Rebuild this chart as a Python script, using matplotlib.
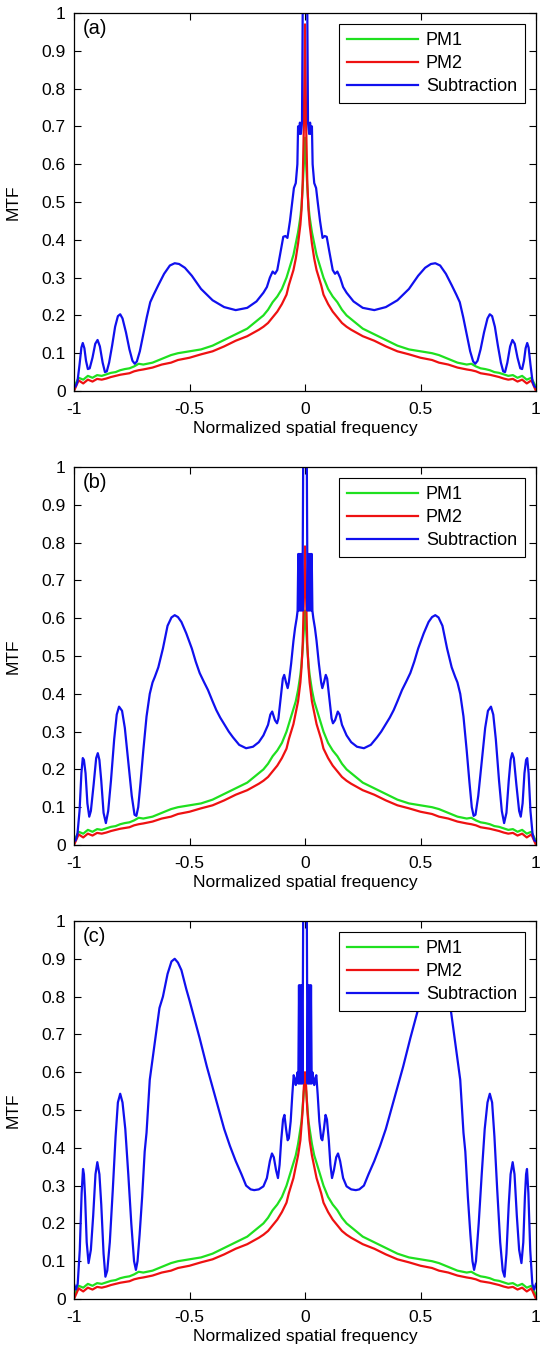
import numpy as np
import matplotlib
matplotlib.use("Agg")
import matplotlib.pyplot as plt

plt.rcParams['font.family'] = ['Liberation Sans', 'DejaVu Sans']

# ---------------- data (positive half, curves are symmetric about 0) ----------------
# PM1 / PM2 common grid
x_pm = [0.0, 0.005, 0.01, 0.015, 0.02, 0.03, 0.04, 0.05, 0.06, 0.07, 0.08, 0.10, 0.12,
        0.14, 0.16, 0.18, 0.20, 0.25, 0.30, 0.35, 0.40, 0.45, 0.50, 0.55, 0.58, 0.62,
        0.66, 0.70, 0.72, 0.74, 0.76, 0.78, 0.80, 0.82, 0.84, 0.86, 0.88, 0.90, 0.92,
        0.94, 0.96, 0.98, 1.0]
pm1_tail = [0.30, 0.27, 0.25, 0.235, 0.215, 0.20, 0.19, 0.165, 0.15, 0.135, 0.12, 0.11,
            0.105, 0.10, 0.095, 0.085, 0.075, 0.07, 0.072, 0.065, 0.06, 0.058, 0.055, 0.05,
            0.048, 0.044, 0.04, 0.042, 0.035, 0.04, 0.03, 0.035, 0.01]
pm2_tail = [0.255, 0.23, 0.21, 0.195, 0.18, 0.17, 0.162, 0.145, 0.133, 0.118, 0.105, 0.097,
            0.088, 0.082, 0.075, 0.07, 0.062, 0.057, 0.055, 0.052, 0.047, 0.045, 0.043, 0.04,
            0.037, 0.033, 0.03, 0.032, 0.025, 0.03, 0.02, 0.028, 0.0]
pm1_core_a = [0.67, 0.60, 0.54, 0.49, 0.46, 0.42, 0.39, 0.36, 0.34, 0.32]
pm2_core_a = [0.97, 0.70, 0.55, 0.48, 0.44, 0.39, 0.35, 0.32, 0.30, 0.28]
pm1_core_b = [0.62, 0.57, 0.52, 0.48, 0.45, 0.41, 0.38, 0.36, 0.34, 0.32]
pm2_core_b = [0.79, 0.65, 0.53, 0.47, 0.43, 0.38, 0.35, 0.32, 0.30, 0.28]
pm1_core_c = [0.57, 0.55, 0.51, 0.47, 0.45, 0.41, 0.38, 0.36, 0.34, 0.32]
pm2_core_c = [0.60, 0.56, 0.50, 0.46, 0.42, 0.38, 0.35, 0.32, 0.30, 0.28]

# Subtraction curves
x_sub_a = [0.0, 0.01, 0.013, 0.018, 0.022, 0.026, 0.03, 0.033, 0.04, 0.048, 0.055, 0.065,
           0.076, 0.085, 0.094, 0.105, 0.12, 0.13, 0.14, 0.152, 0.165, 0.18, 0.21, 0.25,
           0.30, 0.35, 0.40, 0.45, 0.49, 0.52, 0.545, 0.564, 0.585, 0.61, 0.635, 0.655,
           0.67, 0.685, 0.70, 0.715, 0.728, 0.737, 0.747, 0.76, 0.775, 0.79, 0.80, 0.81,
           0.822, 0.835, 0.848, 0.858, 0.866, 0.876, 0.888, 0.898, 0.908, 0.92, 0.932,
           0.94, 0.948, 0.955, 0.962, 0.968, 0.976, 0.985, 0.993, 1.0]
sub_a = [1.0, 1.0, 0.71, 0.68, 0.71, 0.68, 0.70, 0.60, 0.55, 0.537, 0.50, 0.45,
         0.405, 0.41, 0.408, 0.37, 0.32, 0.31, 0.316, 0.30, 0.275, 0.26, 0.237, 0.22,
         0.214, 0.222, 0.24, 0.27, 0.305, 0.326, 0.336, 0.338, 0.332, 0.31, 0.28, 0.255,
         0.235, 0.195, 0.15, 0.105, 0.078, 0.072, 0.08, 0.11, 0.155, 0.192, 0.203, 0.198,
         0.17, 0.12, 0.075, 0.052, 0.05, 0.075, 0.118, 0.135, 0.125, 0.088, 0.06,
         0.058, 0.08, 0.113, 0.127, 0.115, 0.07, 0.025, 0.012, 0.01]

x_sub_b = [0.0, 0.008, 0.011, 0.014, 0.018, 0.022, 0.026, 0.029, 0.032, 0.036, 0.043, 0.05,
           0.06, 0.07, 0.075, 0.082, 0.09, 0.096, 0.105, 0.115, 0.121, 0.13, 0.142, 0.15,
           0.16, 0.18, 0.20, 0.225, 0.255, 0.285, 0.312, 0.33, 0.35, 0.367, 0.384, 0.40,
           0.42, 0.438, 0.456, 0.473, 0.49, 0.514, 0.535, 0.55, 0.564, 0.578, 0.595, 0.615,
           0.635, 0.65, 0.66, 0.672, 0.686, 0.70, 0.712, 0.722, 0.73, 0.738, 0.75, 0.765,
           0.78, 0.792, 0.805, 0.815, 0.826, 0.84, 0.852, 0.862, 0.872, 0.882, 0.89, 0.897,
           0.904, 0.915, 0.927, 0.934, 0.942, 0.95, 0.957, 0.962, 0.968, 0.976, 0.985,
           0.993, 1.0]
sub_b = [1.0, 1.0, 0.62, 0.77, 0.62, 0.77, 0.62, 0.77, 0.62, 0.60, 0.574, 0.54,
         0.48, 0.43, 0.415, 0.43, 0.45, 0.44, 0.39, 0.335, 0.322, 0.33, 0.353, 0.345,
         0.318, 0.29, 0.272, 0.26, 0.256, 0.265, 0.285, 0.30, 0.32, 0.337, 0.357, 0.38,
         0.41, 0.432, 0.455, 0.485, 0.52, 0.56, 0.59, 0.603, 0.608, 0.602, 0.58, 0.52,
         0.47, 0.445, 0.43, 0.40, 0.34, 0.25, 0.165, 0.10, 0.077, 0.08, 0.13, 0.22,
         0.31, 0.355, 0.366, 0.345, 0.28, 0.17, 0.09, 0.058, 0.085, 0.17, 0.225, 0.243,
         0.23, 0.16, 0.09, 0.075, 0.11, 0.19, 0.225, 0.23, 0.19, 0.09, 0.03,
         0.012, 0.01]

x_sub_c = [0.0, 0.008, 0.011, 0.014, 0.017, 0.02, 0.023, 0.026, 0.029, 0.032, 0.036, 0.04,
           0.045, 0.049, 0.055, 0.062, 0.07, 0.075, 0.082, 0.089, 0.095, 0.103, 0.11, 0.117,
           0.125, 0.135, 0.143, 0.152, 0.165, 0.18, 0.20, 0.22, 0.235, 0.255, 0.275, 0.30,
           0.325, 0.35, 0.375, 0.40, 0.425, 0.456, 0.48, 0.50, 0.514, 0.535, 0.55, 0.564,
           0.578, 0.595, 0.615, 0.63, 0.65, 0.672, 0.686, 0.694, 0.705, 0.716, 0.725,
           0.732, 0.74, 0.752, 0.765, 0.778, 0.79, 0.80, 0.81, 0.82, 0.832, 0.845, 0.856,
           0.864, 0.872, 0.882, 0.89, 0.899, 0.907, 0.917, 0.927, 0.937, 0.945, 0.952,
           0.957, 0.961, 0.967, 0.975, 0.984, 0.992, 1.0]
sub_c = [1.0, 1.0, 0.57, 0.83, 0.57, 0.83, 0.57, 0.83, 0.57, 0.60, 0.58, 0.566,
         0.585, 0.592, 0.54, 0.47, 0.425, 0.42, 0.45, 0.487, 0.475, 0.42, 0.355, 0.32,
         0.34, 0.375, 0.385, 0.365, 0.32, 0.298, 0.29, 0.288, 0.29, 0.30, 0.33, 0.365,
         0.405, 0.45, 0.505, 0.56, 0.615, 0.69, 0.745, 0.79, 0.82, 0.87, 0.89, 0.90,
         0.893, 0.86, 0.80, 0.77, 0.68, 0.58, 0.44, 0.39, 0.27, 0.17, 0.10,
         0.077, 0.10, 0.2, 0.33, 0.45, 0.52, 0.543, 0.52, 0.43, 0.29, 0.15, 0.075,
         0.059, 0.12, 0.25, 0.33, 0.362, 0.33, 0.22, 0.13, 0.095, 0.15, 0.27,
         0.33, 0.344, 0.28, 0.13, 0.04, 0.025, 0.04]

panels = ['(a)', '(b)', '(c)']
x_ticks = [-1, -0.5, 0, 0.5, 1]
x_tick_labels = ['-1', '-0.5', '0', '0.5', '1']
y_ticks = [0, 0.1, 0.2, 0.3, 0.4, 0.5, 0.6, 0.7, 0.8, 0.9, 1.0]
y_tick_labels = ['0', '0.1', '0.2', '0.3', '0.4', '0.5', '0.6', '0.7', '0.8', '0.9', '1']
legend_labels = ['PM1', 'PM2', 'Subtraction']


def mirror(xh, yh):
    xh = np.asarray(xh, float)
    yh = np.asarray(yh, float)
    x = np.concatenate([-xh[::-1], xh[1:]])
    y = np.concatenate([yh[::-1], yh[1:]])
    return x, y


series = [
    (pm1_core_a + pm1_tail, pm2_core_a + pm2_tail, x_sub_a, sub_a),
    (pm1_core_b + pm1_tail, pm2_core_b + pm2_tail, x_sub_b, sub_b),
    (pm1_core_c + pm1_tail, pm2_core_c + pm2_tail, x_sub_c, sub_c),
]

W, H = 543, 1350
fig = plt.figure(figsize=(W / 100, H / 100), dpi=100)
bottoms = [391, 845, 1299]
ax_h = 378
for i, (p1, p2, xs, sb) in enumerate(series):
    ax = fig.add_axes([74 / W, (H - bottoms[i]) / H, 462 / W, ax_h / H])
    xg, yg = mirror(x_pm, p1)
    xr, yr = mirror(x_pm, p2)
    xb, yb = mirror(xs, sb)
    kw = dict(lw=1.6, solid_joinstyle='round')
    ax.plot(xg, yg, color='#1fe01f', label=legend_labels[0], **kw)
    ax.plot(xr, yr, color='#ee1111', label=legend_labels[1], **kw)
    ax.plot(xb, yb, color='#1010ee', label=legend_labels[2], **kw)
    ax.set_xlim(-1, 1)
    ax.set_ylim(0, 1)
    ax.set_xticks(x_ticks)
    ax.set_xticklabels(x_tick_labels)
    ax.set_yticks(y_ticks)
    ax.set_yticklabels(y_tick_labels)
    ax.tick_params(direction='in', top=True, right=True, length=5, width=0.8,
                   labelsize=12.5, pad=6)
    ax.tick_params(axis='x', pad=8)
    for s in ax.spines.values():
        s.set_linewidth(0.9)
    ax.set_xlabel('Normalized spatial frequency', fontsize=12.5, labelpad=3)
    ax.set_ylabel('MTF', fontsize=12.5, labelpad=15)
    ax.text(0.02, 0.958, panels[i], transform=ax.transAxes, fontsize=14.5,
            ha='left', va='center')
    leg = ax.legend(loc='upper right', fontsize=13, handlelength=3.9,
                    handletextpad=0.45, labelspacing=0.34, borderpad=0.45,
                    borderaxespad=0.6, fancybox=False, framealpha=1,
                    edgecolor='black')
    leg.get_frame().set_linewidth(0.8)

fig.savefig('out.png', dpi=100)
